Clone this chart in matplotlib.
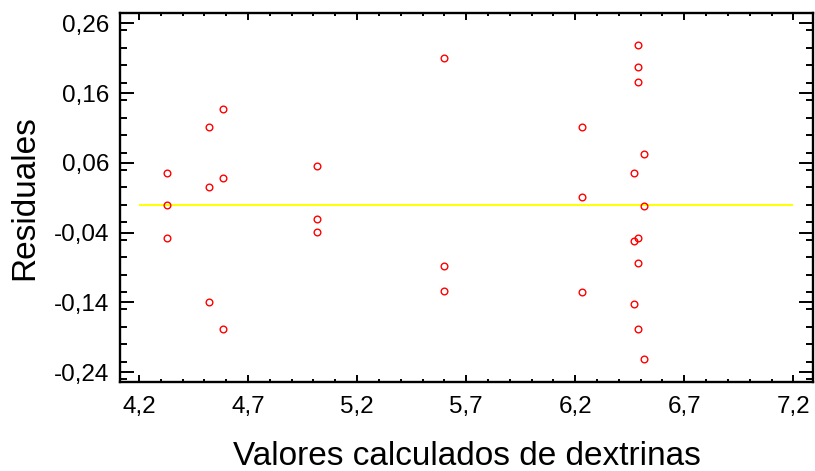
import matplotlib
matplotlib.use("Agg")
import matplotlib.pyplot as plt
from matplotlib.ticker import MultipleLocator, FuncFormatter

plt.rcParams['font.family'] = ['Liberation Sans', 'DejaVu Sans']

# valores calculados (x) y residuales (y)
predichos = [4.330, 4.330, 4.330,
             4.522, 4.522, 4.522,
             4.585, 4.585, 4.585,
             5.016, 5.016, 5.016,
             5.599, 5.599, 5.599,
             6.229, 6.229, 6.229,
             6.490, 6.490, 6.490, 6.516, 6.469, 6.516,
             6.490, 6.469, 6.490, 6.469, 6.490, 6.516]
residuales = [0.045, 0.000, -0.048,
              0.112, 0.025, -0.140,
              0.137, 0.038, -0.178,
              0.056, -0.020, -0.039,
              0.210, -0.088, -0.124,
              0.112, 0.011, -0.125,
              0.229, 0.197, 0.176, 0.073, 0.045, -0.002,
              -0.047, -0.052, -0.084, -0.142, -0.178, -0.221]

linea_cero_x = [4.2, 7.2]
x_ticks = [4.2, 4.7, 5.2, 5.7, 6.2, 6.7, 7.2]
y_ticks = [-0.24, -0.14, -0.04, 0.06, 0.16, 0.26]

fig = plt.figure(figsize=(8.15, 4.71), dpi=100)
ax = fig.add_axes([120 / 815, 1 - 382 / 471, 693 / 815, 369 / 471])

ax.hlines(0, linea_cero_x[0], linea_cero_x[1], color='#ffff00', linewidth=1.4, zorder=2)
ax.plot(predichos, residuales, linestyle='none', marker='o', markersize=4.8,
        markerfacecolor='none', markeredgecolor='#ff0000', markeredgewidth=1.0, zorder=3)

ax.set_xlim(4.113, 7.29)
ax.set_ylim(-0.254, 0.275)
ax.set_xticks(x_ticks)
ax.set_yticks(y_ticks)
ax.xaxis.set_minor_locator(MultipleLocator(0.1))
ax.yaxis.set_minor_locator(MultipleLocator(0.025))

ax.xaxis.set_major_formatter(FuncFormatter(lambda v, p: ('%.1f' % v).replace('.', ',')))
ax.yaxis.set_major_formatter(FuncFormatter(lambda v, p: ('%.2f' % v).replace('.', ',')))

for s in ax.spines.values():
    s.set_linewidth(1.7)
ax.tick_params(axis='both', which='both', direction='in', top=True, right=True,
               width=1.4, labelsize=17.5)
ax.tick_params(axis='y', which='major', length=10, pad=8)
ax.tick_params(axis='y', which='minor', length=5)
ax.tick_params(axis='x', which='major', length=5, pad=10)
ax.tick_params(axis='x', which='minor', length=2.5)

ax.set_xlabel('Valores calculados de dextrinas', fontsize=24, va='baseline')
ax.xaxis.set_label_coords(0.5, (382 - 465) / 369)
ax.set_ylabel('Residuales', fontsize=24, va='baseline')
ax.yaxis.set_label_coords((33 - 120) / 693, 0.5)

fig.savefig('out.png', dpi=100)
